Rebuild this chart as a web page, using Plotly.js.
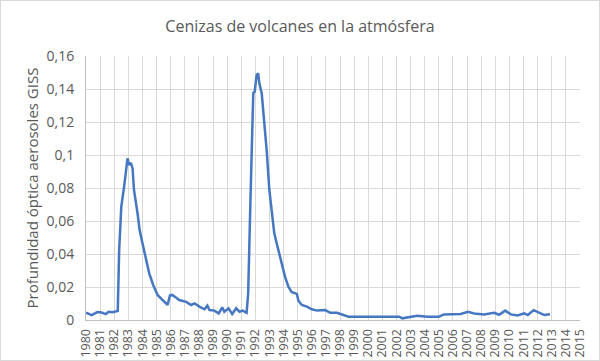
<!DOCTYPE html>
<html>
<head>
<meta charset="utf-8">
<script src="https://cdn.plot.ly/plotly-3.0.1.min.js"></script>
<style>
html, body { margin: 0; padding: 0; background: #fff; }
#chart { width: 600px; height: 361px; box-sizing: border-box; border: 1px solid #d9d9d9; }
</style>
</head>
<body>
<div id="chart"></div>
<script>
const years = [1980.0, 1980.4, 1980.8, 1981.1, 1981.4, 1981.6, 1981.87, 1982.15, 1982.25, 1982.35, 1982.5, 1982.7, 1982.94, 1983.05, 1983.18, 1983.3, 1983.4, 1983.65, 1983.8, 1984.0, 1984.24, 1984.48, 1984.76, 1985.07, 1985.43, 1985.78, 1985.95, 1986.1, 1986.37, 1986.6, 1987.1, 1987.45, 1987.7, 1988.03, 1988.4, 1988.6, 1988.75, 1989.1, 1989.4, 1989.65, 1989.8, 1990.1, 1990.36, 1990.64, 1990.88, 1991.1, 1991.38, 1991.49, 1991.64, 1991.85, 1991.95, 1992.09, 1992.2, 1992.28, 1992.45, 1992.68, 1992.8, 1992.99, 1993.16, 1993.34, 1993.51, 1993.75, 1993.94, 1994.1, 1994.34, 1994.58, 1994.94, 1995.05, 1995.29, 1995.65, 1996.0, 1996.36, 1996.95, 1997.3, 1997.78, 1998.25, 1998.6, 2000.86, 2002.2, 2002.4, 2003.0, 2003.47, 2004.18, 2005.0, 2005.36, 2005.84, 2006.55, 2007.07, 2007.5, 2008.2, 2008.92, 2009.27, 2009.7, 2010.1, 2010.58, 2011.05, 2011.3, 2011.72, 2012.0, 2012.47, 2012.87];
const aod = [0.0044, 0.0030, 0.0048, 0.0045, 0.0036, 0.0050, 0.0047, 0.0050, 0.0055, 0.0424, 0.0687, 0.0808, 0.0980, 0.0940, 0.0953, 0.0919, 0.0788, 0.0647, 0.0545, 0.0465, 0.0364, 0.0283, 0.0212, 0.0152, 0.0121, 0.0091, 0.0150, 0.0152, 0.0137, 0.0121, 0.0110, 0.0091, 0.0101, 0.0081, 0.0065, 0.0087, 0.0060, 0.0057, 0.0040, 0.0077, 0.0050, 0.0071, 0.0036, 0.0071, 0.0050, 0.0057, 0.0044, 0.0162, 0.0687, 0.1374, 0.1384, 0.1485, 0.1495, 0.1434, 0.1374, 0.1172, 0.1030, 0.0788, 0.0647, 0.0525, 0.0465, 0.0384, 0.0323, 0.0263, 0.0202, 0.0168, 0.0158, 0.0117, 0.0091, 0.0081, 0.0065, 0.0057, 0.0060, 0.0044, 0.0044, 0.0030, 0.0020, 0.0020, 0.0020, 0.0010, 0.0020, 0.0026, 0.0020, 0.0020, 0.0034, 0.0036, 0.0036, 0.0050, 0.0040, 0.0034, 0.0044, 0.0032, 0.0057, 0.0034, 0.0028, 0.0040, 0.0030, 0.0060, 0.0047, 0.0030, 0.0035];
const yearTicks = [];
for (let y = 1980; y <= 2015; y++) yearTicks.push(y);
const chartTitle = 'Cenizas de volcanes en la atmósfera';
const yTitle = 'Profundidad óptica aerosoles GISS';

const trace = {
  x: years, y: aod, type: 'scatter', mode: 'lines',
  line: { color: '#4677c1', width: 2.5 },
  hoverinfo: 'x+y'
};
const layout = {
  width: 598, height: 359,
  margin: { l: 85, r: 19, t: 55, b: 40 },
  paper_bgcolor: '#ffffff', plot_bgcolor: '#ffffff',
  separators: ',.',
  font: { family: 'Open Sans, Liberation Sans, sans-serif', color: '#595959', size: 12 },
  title: { text: chartTitle, x: 0.5, xanchor: 'center', y: 0.93, yanchor: 'middle',
           font: { size: 16, color: '#595959' } },
  xaxis: {
    range: [1980, 2015], tickmode: 'array', tickvals: yearTicks,
    ticktext: yearTicks.map(String), tickangle: -90,
    showgrid: true, gridcolor: '#d9d9d9', gridwidth: 1,
    showline: true, linecolor: '#bfbfbf', linewidth: 1,
    ticks: '', zeroline: false, mirror: false,
    ticklabelstandoff: 3,
    tickfont: { size: 12.5, color: '#595959' }
  },
  yaxis: {
    range: [0, 0.16], dtick: 0.02, tick0: 0,
    showgrid: true, gridcolor: '#d9d9d9', gridwidth: 1,
    showline: true, linecolor: '#bfbfbf', linewidth: 1,
    ticks: '', zeroline: false,
    ticklabelstandoff: 8,
    tickfont: { size: 14, color: '#595959' },
    title: { text: yTitle, font: { size: 15, color: '#595959' }, standoff: 4 }
  },
  showlegend: false
};
Plotly.newPlot('chart', [trace], layout, { displayModeBar: false, staticPlot: true });
</script>
</body>
</html>
